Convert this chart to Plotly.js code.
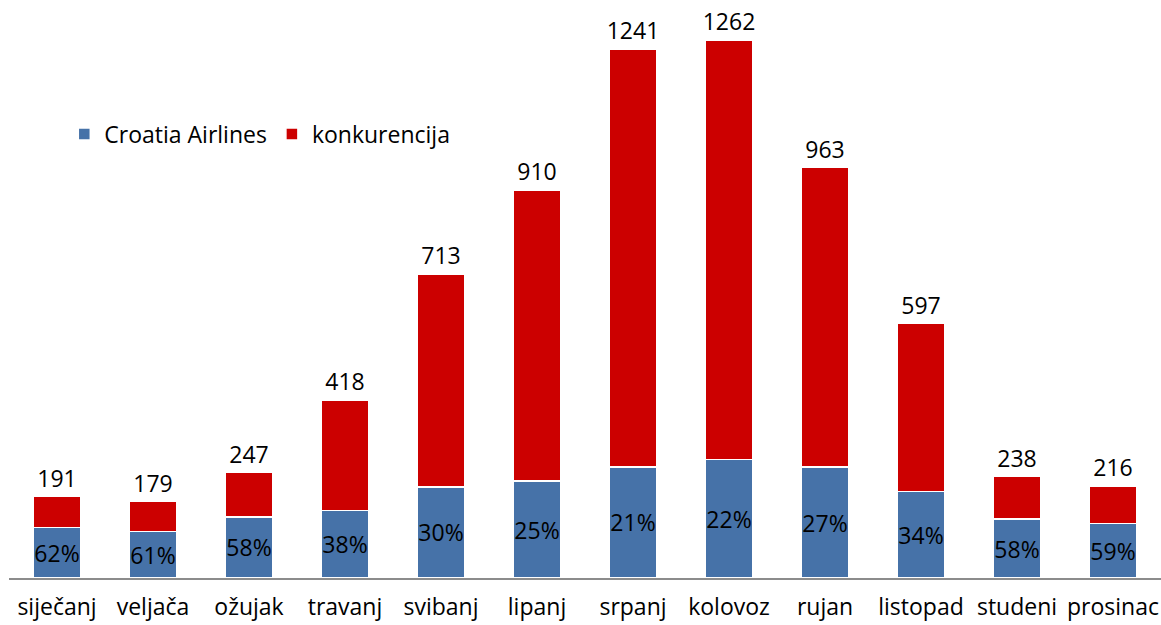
<!DOCTYPE html>
<html>
<head>
<meta charset="utf-8">
<script src="https://cdn.plot.ly/plotly-3.0.1.min.js"></script>
<style>html,body{margin:0;padding:0;background:#fff;}#chart{width:1161px;height:625px;}</style>
</head>
<body>
<div id="chart"></div>
<script>
const categories = ['siječanj','veljača','ožujak','travanj','svibanj','lipanj','srpanj','kolovoz','rujan','listopad','studeni','prosinac'];
const totals = [191,179,247,418,713,910,1241,1262,963,597,238,216];
const croatiaShare = [62,61,58,38,30,25,21,22,27,34,58,59];

const croatia = totals.map((t,i)=> t*croatiaShare[i]/100);
const competition = totals.map((t,i)=> t - croatia[i]);

const FONT = '"Open Sans", sans-serif';
const FS = 23;

const traces = [
  {
    type:'bar', name:'Croatia Airlines', x:categories, y:croatia,
    marker:{color:'#4672A8', line:{color:'#ffffff', width:1.5}},
    text: croatiaShare.map(v=>v+'%'), textposition:'inside', insidetextanchor:'middle', textangle:0,
    textfont:{family:FONT, size:FS, color:'#000'}, constraintext:'none',
    hoverinfo:'skip', width:0.5
  },
  {
    type:'bar', name:'konkurencija', x:categories, y:competition,
    marker:{color:'#CC0000', line:{color:'#ffffff', width:1.5}},
    text: totals.map(String), textposition:'outside', textangle:0,
    textfont:{family:FONT, size:FS, color:'#000'}, constraintext:'none', cliponaxis:false,
    hoverinfo:'skip', width:0.5
  }
];

const layout = {
  width:1161, height:625,
  margin:{l:9, r:0, t:24, b:47},
  barmode:'stack',
  paper_bgcolor:'#fff', plot_bgcolor:'#fff',
  font:{family:FONT, size:FS, color:'#000'},
  showlegend:true,
  legend:{orientation:'h', x:0.048, y:0.84, xanchor:'left', yanchor:'top',
          font:{family:FONT, size:FS, color:'#000'}, itemwidth:30, traceorder:'normal'},
  xaxis:{showline:true, linecolor:'#8c8c8c', linewidth:1.5, ticks:'', showgrid:false,
         tickfont:{family:FONT, size:FS, color:'#000'}, ticklabelstandoff:8, zeroline:false},
  yaxis:{range:[0,1300], visible:false, showgrid:false, zeroline:false}
};

Plotly.newPlot('chart', traces, layout, {displayModeBar:false, staticPlot:true});
</script>
</body>
</html>
